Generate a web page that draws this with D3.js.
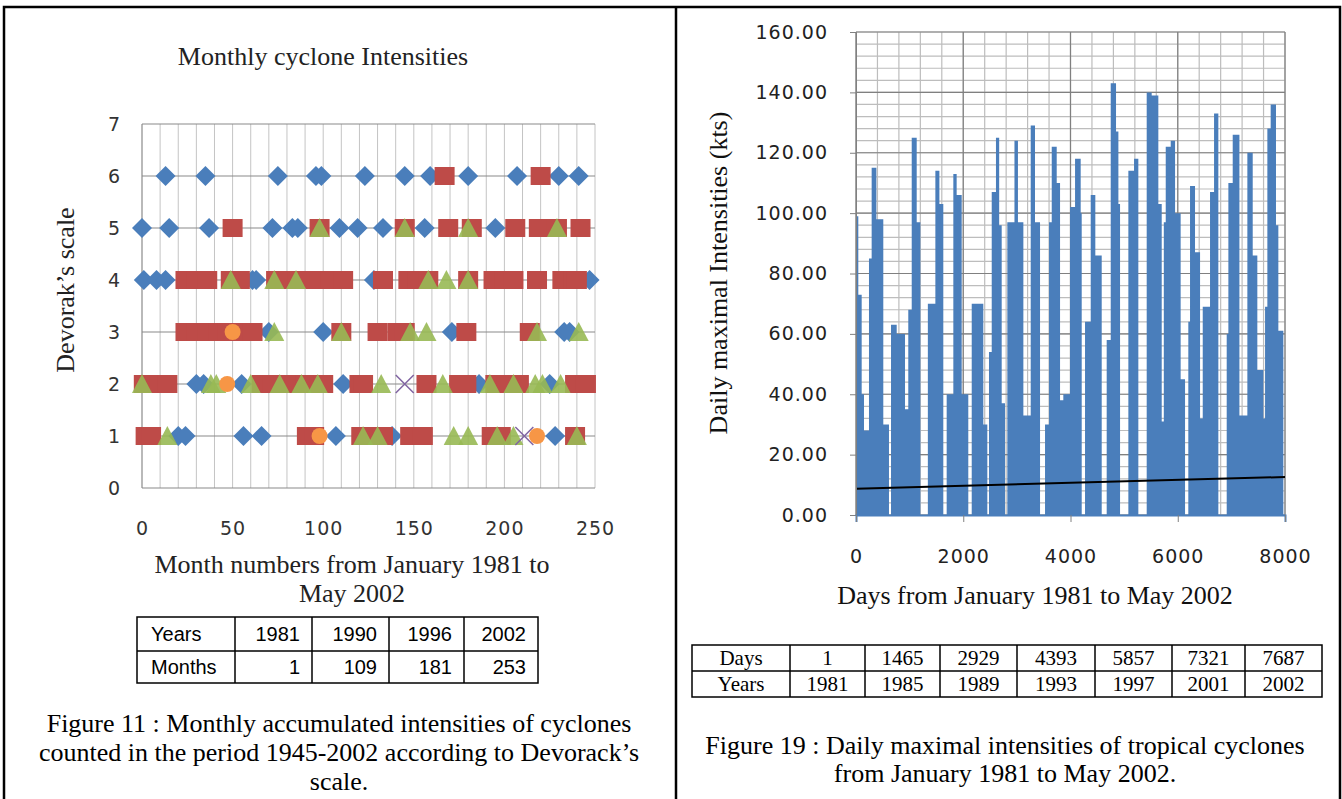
<!DOCTYPE html>
<html>
<head>
<meta charset="utf-8">
<script src="https://cdn.jsdelivr.net/npm/d3@7"></script>
<style>
  body { margin: 0; background: #fff; }
  svg { display: block; }
  .tick text { font-family: "DejaVu Sans", Verdana, sans-serif; }
</style>
</head>
<body>
<svg id="fig" width="1342" height="799"></svg>
<script>
// ---------- Figure 11 : monthly intensities (Devorak scale) ----------
var levelTicks = [0, 1, 2, 3, 4, 5, 6, 7];
var monthTicks = [0, 50, 100, 150, 200, 250];

// [month, level]
var diamondPts = [
  [13,6],[35,6],[75,6],[96,6],[99,6],[123,6],[145,6],[159,6],[180,6],[207,6],[230,6],[241,6],
  [0,5],[15,5],[37,5],[72,5],[83,5],[86,5],[109,5],[119,5],[133,5],[156,5],[195,5],
  [1,4],[8,4],[13,4],[61,4],[63,4],[128,4],[247,4],
  [70,3],[100,3],[171,3],[233,3],[236,3],
  [30,2],[34,2],[55,2],[111,2],[186,2],[225,2],
  [20,1],[24,1],[56,1],[66,1],[107,1],[138,1],[228,1]
];
var squarePts = [
  [167,6],[220,6],
  [50,5],[98,5],[145,5],[169,5],[182,5],[206,5],[219,5],[229,5],[242,5],
  [24,4],[30,4],[36,4],[49,4],[54,4],[74,4],[80,4],[86,4],[92,4],[98,4],[104,4],[111,4],
  [133,4],[147,4],[152,4],[158,4],[180,4],[194,4],[200,4],[205,4],[218,4],[232,4],[238,4],[240,4],
  [24,3],[30,3],[36,3],[42,3],[47,3],[57,3],[61,3],[110,3],[130,3],[141,3],[145,3],[179,3],[214,3],
  [1,2],[6,2],[14,2],[66,2],[72,2],[78,2],[84,2],[90,2],[96,2],[100,2],[120,2],[122,2],
  [157,2],[175,2],[179,2],[195,2],[201,2],[208,2],[239,2],[245,2],
  [2,1],[5,1],[91,1],[95,1],[121,1],[127,1],[133,1],[148,1],[155,1],[193,1],[198,1],[239,1]
];
var trianglePts = [
  [98,5],[145,5],[180,5],[229,5],
  [49,4],[73,4],[85,4],[158,4],[168,4],[180,4],
  [73,3],[110,3],[148,3],[157,3],[218,3],[241,3],
  [0,2],[38,2],[41,2],[60,2],[76,2],[88,2],[97,2],[132,2],[166,2],[192,2],[205,2],[217,2],[221,2],[231,2],
  [14,1],[122,1],[130,1],[172,1],[180,1],[196,1],[205,1],[240,1]
];
var crossPts = [[145,2],[211,1]];
var circlePts = [[50,3],[47,2],[98,1],[218,1]];

var leftTableYears = ["1981", "1990", "1996", "2002"];
var leftTableMonths = ["1", "109", "181", "253"];

// ---------- Figure 19 : daily maximal intensities ----------
var intensityTicks = [0, 20, 40, 60, 80, 100, 120, 140, 160];
var dayTicks = [0, 2000, 4000, 6000, 8000];

// [day, kts] -- value holds until the next entry
var dailySteps = [
  [0,99],[43,73],[106,40],[149,28],[242,85],[292,115],[380,98],[509,30],[615,0],
  [653,63],[759,60],[914,35],[975,68],[1039,125],[1132,97],[1200,0],
  [1340,70],[1480,114],[1555,103],[1628,0],
  [1691,40],[1815,113],[1877,106],[1971,40],[2094,0],
  [2158,70],[2374,30],[2449,0],[2480,54],[2531,107],[2610,125],[2670,96],[2717,37],[2779,0],
  [2822,97],[2955,124],[3020,97],[3121,33],[3258,129],[3338,97],[3432,0],
  [3525,30],[3600,97],[3650,122],[3743,110],[3805,38],[3866,40],[3991,102],[4085,118],[4190,100],[4209,0],
  [4271,64],[4377,106],[4463,86],[4582,0],
  [4675,58],[4750,143],[4849,127],[4893,103],[4924,0],
  [5079,114],[5185,118],[5265,0],
  [5421,140],[5514,139],[5638,103],[5701,31],[5740,97],[5776,122],[5869,124],[5950,100],[6054,45],[6136,0],
  [6197,64],[6229,109],[6322,87],[6416,32],[6466,69],[6602,107],[6677,133],[6757,0],
  [6913,60],[6944,110],[7025,126],[7150,33],[7298,120],[7398,86],[7484,48],[7596,32],[7628,69],
  [7671,128],[7733,136],[7832,96],[7876,61],[7969,0]
];
var trendPts = [[0, 8.7], [8000, 12.6]];

var rightTableDays = ["1", "1465", "2929", "4393", "5857", "7321", "7687"];
var rightTableYears = ["1981", "1985", "1989", "1993", "1997", "2001", "2002"];

var svg = d3.select("#fig");
var serif = '"Liberation Serif", "Times New Roman", serif';
var sans = '"Liberation Sans", Arial, sans-serif';

svg.append("rect").attr("width", 1342).attr("height", 799).attr("fill", "#fff");

// page frame
svg.append("path")
  .attr("d", "M4,805 V7 H1340 V805 M676,7 V805")
  .attr("fill", "none").attr("stroke", "#000").attr("stroke-width", 2.5);

// ================= left chart =================
var xL = d3.scaleLinear().domain([0, 250]).range([142, 595]);
var yL = d3.scaleLinear().domain([0, 7]).range([488, 124]);

var gl = svg.append("g");

gl.append("text").attr("x", 323).attr("y", 65).attr("text-anchor", "middle")
  .attr("font-family", serif).attr("font-size", 26).attr("fill", "#222")
  .text("Monthly cyclone Intensities");

// vertical grid every 10 months
gl.append("g").selectAll("line").data(d3.range(10, 251, 10)).join("line")
  .attr("x1", d => xL(d)).attr("x2", d => xL(d))
  .attr("y1", yL(7)).attr("y2", yL(0))
  .attr("stroke", "#c4c4c4").attr("stroke-width", 1);

// horizontal grid on each level
gl.append("g").selectAll("line").data(levelTicks.slice(1)).join("line")
  .attr("x1", xL(0)).attr("x2", xL(250))
  .attr("y1", d => yL(d)).attr("y2", d => yL(d))
  .attr("stroke", "#8a8a8a").attr("stroke-width", 1.2);

gl.append("line").attr("x1", xL(0)).attr("x2", xL(0)).attr("y1", yL(7)).attr("y2", yL(0))
  .attr("stroke", "#8a8a8a").attr("stroke-width", 1.2);
gl.append("line").attr("x1", xL(0)).attr("x2", xL(250)).attr("y1", yL(0)).attr("y2", yL(0))
  .attr("stroke", "#8a8a8a").attr("stroke-width", 1.2);

var axL = gl.append("g").attr("transform", "translate(" + xL(0) + ",0)")
  .call(d3.axisLeft(yL).tickValues(levelTicks).tickFormat(d3.format("d")).tickSize(0).tickPadding(22));
axL.select(".domain").remove();
axL.selectAll("text").attr("font-size", 19).attr("fill", "#333");

var axLB = gl.append("g").attr("transform", "translate(0," + yL(0) + ")")
  .call(d3.axisBottom(xL).tickValues(monthTicks).tickFormat(d3.format("d")).tickSize(0).tickPadding(34));
axLB.select(".domain").remove();
axLB.selectAll("text").attr("font-size", 19).attr("fill", "#333").attr("letter-spacing", 1);

// markers: diamonds, squares, triangles, crosses, circles
var markers = gl.append("g");
markers.selectAll(".dia").data(diamondPts).join("path").attr("class", "dia")
  .attr("transform", d => "translate(" + xL(d[0]) + "," + yL(d[1]) + ")")
  .attr("d", "M0,-10 L10,0 L0,10 L-10,0 Z").attr("fill", "#4a7ebb");
markers.selectAll(".sq").data(squarePts).join("rect").attr("class", "sq")
  .attr("x", d => xL(d[0]) - 10).attr("y", d => yL(d[1]) - 9)
  .attr("width", 20).attr("height", 18).attr("fill", "#be4b48");
markers.selectAll(".tri").data(trianglePts).join("path").attr("class", "tri")
  .attr("transform", d => "translate(" + xL(d[0]) + "," + yL(d[1]) + ")")
  .attr("d", "M0,-10 L10,9 L-10,9 Z").attr("fill", "#98b954").attr("opacity", 0.9);
markers.selectAll(".x").data(crossPts).join("path").attr("class", "x")
  .attr("transform", d => "translate(" + xL(d[0]) + "," + yL(d[1]) + ")")
  .attr("d", "M-9,-9 L9,9 M-9,9 L9,-9").attr("stroke", "#8064a2").attr("stroke-width", 1.5);
markers.selectAll(".ci").data(circlePts).join("circle").attr("class", "ci")
  .attr("cx", d => xL(d[0])).attr("cy", d => yL(d[1])).attr("r", 8).attr("fill", "#f79646");

gl.append("text").attr("transform", "translate(74,290) rotate(-90)").attr("text-anchor", "middle")
  .attr("font-family", serif).attr("font-size", 26).attr("fill", "#222")
  .text("Devorak\u2019s scale");

gl.append("text").attr("x", 352).attr("y", 573).attr("text-anchor", "middle")
  .attr("font-family", serif).attr("font-size", 26).attr("fill", "#222")
  .text("Month numbers from January 1981 to");
gl.append("text").attr("x", 352).attr("y", 602).attr("text-anchor", "middle")
  .attr("font-family", serif).attr("font-size", 26).attr("fill", "#222")
  .text("May 2002");

// table under left chart
var ltCols = [137, 235, 312, 389, 464, 538];
var ltRows = [617, 651, 683];
var lt = svg.append("g");
lt.append("rect").attr("x", ltCols[0]).attr("y", ltRows[0])
  .attr("width", ltCols[5] - ltCols[0]).attr("height", ltRows[2] - ltRows[0])
  .attr("fill", "none").attr("stroke", "#000").attr("stroke-width", 1.5);
lt.selectAll(".vc").data(ltCols.slice(1, 5)).join("line").attr("class", "vc")
  .attr("x1", d => d).attr("x2", d => d).attr("y1", ltRows[0]).attr("y2", ltRows[2])
  .attr("stroke", "#000").attr("stroke-width", 1.5);
lt.append("line").attr("x1", ltCols[0]).attr("x2", ltCols[5]).attr("y1", ltRows[1]).attr("y2", ltRows[1])
  .attr("stroke", "#000").attr("stroke-width", 1.5);
[["Years", leftTableYears], ["Months", leftTableMonths]].forEach(function(row, r) {
  var yy = (ltRows[r] + ltRows[r + 1]) / 2 + 7;
  lt.append("text").attr("x", ltCols[0] + 14).attr("y", yy)
    .attr("font-family", sans).attr("font-size", 20).text(row[0]);
  lt.selectAll(".c" + r).data(row[1]).join("text").attr("class", "c" + r)
    .attr("x", (d, i) => ltCols[i + 2] - 12).attr("y", yy).attr("text-anchor", "end")
    .attr("font-family", sans).attr("font-size", 20).text(d => d);
});

var cap1 = ["Figure 11 : Monthly accumulated intensities of cyclones",
            "counted in the period 1945-2002 according to Devorack\u2019s",
            "scale."];
svg.append("g").selectAll("text").data(cap1).join("text")
  .attr("x", 339).attr("y", (d, i) => 732 + i * 29).attr("text-anchor", "middle")
  .attr("font-family", serif).attr("font-size", 26).text(d => d);

// ================= right chart =================
var xR = d3.scaleLinear().domain([0, 8000]).range([856, 1285]);
var yR = d3.scaleLinear().domain([0, 160]).range([515, 32]);
var gr = svg.append("g");

// minor grid
gr.append("g").selectAll("line").data(d3.range(0, 8001, 400)).join("line")
  .attr("x1", d => xR(d)).attr("x2", d => xR(d)).attr("y1", yR(160)).attr("y2", yR(0))
  .attr("stroke", "#bdbdbd").attr("stroke-width", 1.2);
gr.append("g").selectAll("line").data(d3.range(0, 161, 4)).join("line")
  .attr("x1", xR(0)).attr("x2", xR(8000)).attr("y1", d => yR(d)).attr("y2", d => yR(d))
  .attr("stroke", "#bdbdbd").attr("stroke-width", 1.2);
// major grid
gr.append("g").selectAll("line").data(dayTicks).join("line")
  .attr("x1", d => xR(d)).attr("x2", d => xR(d)).attr("y1", yR(160)).attr("y2", yR(0))
  .attr("stroke", "#808080").attr("stroke-width", 1.2);
gr.append("g").selectAll("line").data(intensityTicks).join("line")
  .attr("x1", xR(0)).attr("x2", xR(8000)).attr("y1", d => yR(d)).attr("y2", d => yR(d))
  .attr("stroke", "#808080").attr("stroke-width", 1.2);

var area = d3.area().curve(d3.curveStepAfter)
  .x(d => xR(d[0])).y0(yR(0)).y1(d => yR(d[1]));
gr.append("path").datum(dailySteps).attr("d", area).attr("fill", "#4a7ebb");

gr.append("path").datum(trendPts)
  .attr("d", d3.line().x(d => xR(d[0])).y(d => yR(d[1])))
  .attr("stroke", "#000").attr("stroke-width", 2).attr("fill", "none");

var axRY = gr.append("g").attr("transform", "translate(" + xR(0) + ",0)")
  .call(d3.axisLeft(yR).tickValues(intensityTicks).tickFormat(d3.format(".2f")).tickSize(6).tickPadding(22));
axRY.select(".domain").attr("stroke", "#808080");
axRY.selectAll("line").attr("stroke", "#808080");
axRY.selectAll("text").attr("font-size", 19).attr("fill", "#222").attr("letter-spacing", 1);

var axRX = gr.append("g").attr("transform", "translate(0," + yR(0) + ")")
  .call(d3.axisBottom(xR).tickValues(dayTicks).tickFormat(d3.format("d")).tickSize(7).tickPadding(28));
axRX.select(".domain").attr("stroke", "#4a7ebb").attr("stroke-width", 2);
axRX.selectAll("line").attr("stroke", "#808080");
axRX.selectAll("text").attr("font-size", 19).attr("fill", "#222").attr("letter-spacing", 1);

gr.append("text").attr("transform", "translate(727,273) rotate(-90)").attr("text-anchor", "middle")
  .attr("font-family", serif).attr("font-size", 26).attr("fill", "#111")
  .text("Daily maximal Intensities (kts)");
gr.append("text").attr("x", 1035).attr("y", 604).attr("text-anchor", "middle")
  .attr("font-family", serif).attr("font-size", 26).attr("fill", "#111")
  .text("Days from January 1981 to May 2002");

// table under right chart
var rtCols = [692, 790, 865, 940, 1017, 1095, 1172, 1245, 1322];
var rtRows = [645, 671, 697];
var rt = svg.append("g");
rt.append("rect").attr("x", rtCols[0]).attr("y", rtRows[0])
  .attr("width", rtCols[8] - rtCols[0]).attr("height", rtRows[2] - rtRows[0])
  .attr("fill", "none").attr("stroke", "#000").attr("stroke-width", 1.5);
rt.selectAll(".vc").data(rtCols.slice(1, 8)).join("line").attr("class", "vc")
  .attr("x1", d => d).attr("x2", d => d).attr("y1", rtRows[0]).attr("y2", rtRows[2])
  .attr("stroke", "#000").attr("stroke-width", 1.5);
rt.append("line").attr("x1", rtCols[0]).attr("x2", rtCols[8]).attr("y1", rtRows[1]).attr("y2", rtRows[1])
  .attr("stroke", "#000").attr("stroke-width", 1.5);
[["Days", rightTableDays], ["Years", rightTableYears]].forEach(function(row, r) {
  var yy = (rtRows[r] + rtRows[r + 1]) / 2 + 7;
  var cells = [row[0]].concat(row[1]);
  rt.selectAll(".c" + r).data(cells).join("text").attr("class", "c" + r)
    .attr("x", (d, i) => (rtCols[i] + rtCols[i + 1]) / 2).attr("y", yy).attr("text-anchor", "middle")
    .attr("font-family", serif).attr("font-size", 21).text(d => d);
});

var cap2 = ["Figure 19 : Daily maximal intensities of tropical cyclones",
            "from January 1981 to May 2002."];
svg.append("g").selectAll("text").data(cap2).join("text")
  .attr("x", 1005).attr("y", (d, i) => 754 + i * 28).attr("text-anchor", "middle")
  .attr("font-family", serif).attr("font-size", 26).text(d => d);
</script>
</body>
</html>
